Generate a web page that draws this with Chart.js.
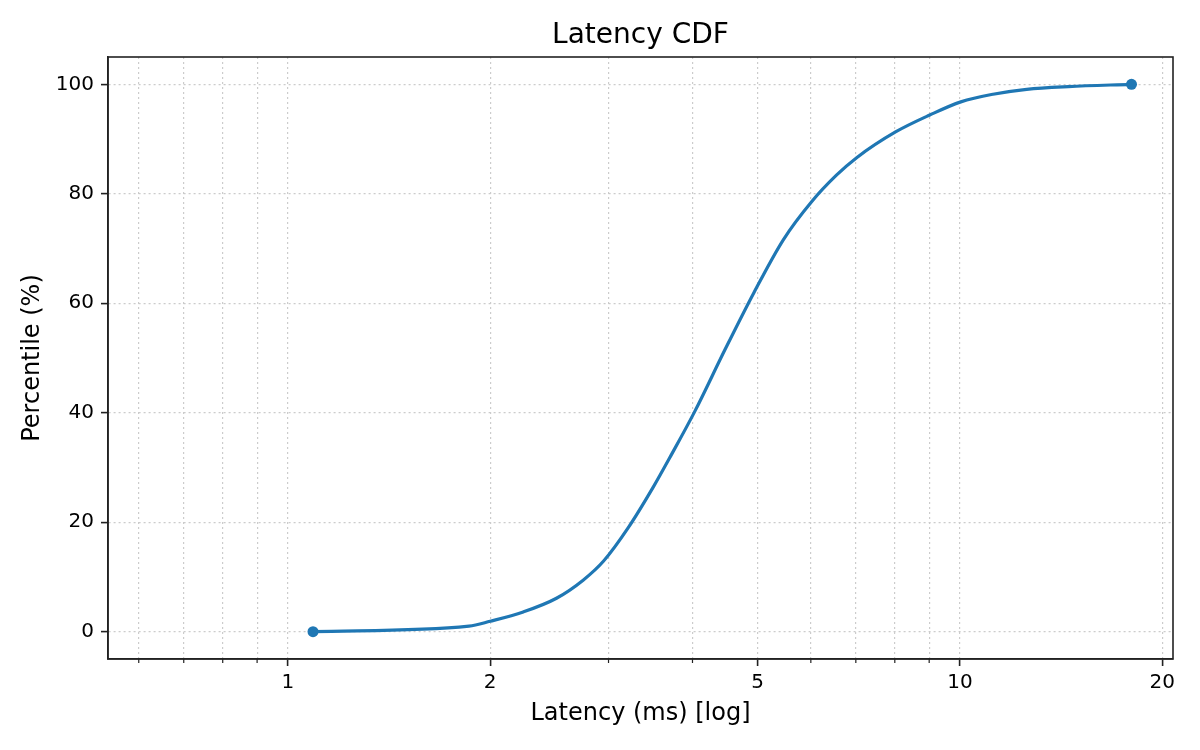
<!DOCTYPE html>
<html>
<head>
<meta charset="utf-8">
<script src="https://cdn.jsdelivr.net/npm/chart.js@4/dist/chart.umd.min.js"></script>
<style>
  html, body { margin: 0; padding: 0; background: #fff; }
  #latencyChart { display: block; }
</style>
</head>
<body>
<canvas id="latencyChart" width="1200" height="750"></canvas>
<script>
// Points
const latencyMs = [1.09, 1.86, 2.0, 2.24, 2.51, 2.75, 2.95, 3.21, 3.5, 3.72, 4.03, 4.47, 4.93, 5.46, 6.02, 6.55, 7.02, 8.02, 9.02, 10.03, 11.2, 12.57, 14.5, 18.0];
const percentile = [0, 1, 1.9, 3.6, 6.1, 9.4, 12.9, 19.0, 26.5, 32.3, 40.2, 51.5, 61.8, 71.6, 78.6, 83.4, 86.6, 91.3, 94.4, 96.8, 98.2, 99.1, 99.6, 100];

// Ticks
const xTicks = [0.6, 0.7, 0.8, 0.9, 1, 2, 3, 4, 5, 6, 7, 8, 9, 10, 20];
const xLabelled = [1, 2, 5, 10, 20];
const yTicks = [0, 20, 40, 60, 80, 100];

const blue = '#1f77b4';
const axisColor = '#222';
const gridColor = '#cccccc';

Chart.defaults.font.family = "'DejaVu Sans', sans-serif";
Chart.defaults.color = '#000';

// top/right spines and the short minor tick marks on x
const framePlugin = {
  id: 'frame',
  afterDraw(chart) {
    const { ctx, chartArea: a, scales: { x } } = chart;
    ctx.save();
    ctx.strokeStyle = axisColor;
    ctx.lineWidth = 1.6;
    ctx.strokeRect(a.left, a.top, a.right - a.left, a.bottom - a.top);
    ctx.lineWidth = 1.2;
    xTicks.filter(v => !xLabelled.includes(v)).forEach(v => {
      const px = x.getPixelForValue(v);
      ctx.beginPath();
      ctx.moveTo(px, a.bottom);
      ctx.lineTo(px, a.bottom + 4);
      ctx.stroke();
    });
    ctx.restore();
  }
};

const lastIdx = latencyMs.length - 1;

new Chart(document.getElementById('latencyChart'), {
  type: 'line',
  data: {
    datasets: [{
      data: latencyMs.map((v, i) => ({ x: v, y: percentile[i] })),
      borderColor: blue,
      backgroundColor: blue,
      borderWidth: 3.2,
      cubicInterpolationMode: 'monotone',
      pointRadius: c => (c.dataIndex === 0 || c.dataIndex === lastIdx) ? 5.5 : 0,
      pointBorderWidth: 0,
      pointHoverRadius: 0,
      fill: false
    }]
  },
  options: {
    responsive: false,
    animation: false,
    layout: { padding: { left: 0, right: 27, top: 0, bottom: 0 } },
    plugins: {
      legend: { display: false },
      tooltip: { enabled: false },
      title: {
        display: true,
        text: 'Latency CDF',
        color: '#000',
        fullSize: false,
        font: { size: 28, weight: 'normal' },
        padding: { top: 19, bottom: 4.4 }
      }
    },
    scales: {
      x: {
        type: 'logarithmic',
        min: 0.54,
        max: 20.75,
        afterBuildTicks: s => { s.ticks = xTicks.map(v => ({ value: v })); },
        afterFit: s => { s.height = 91; },
        ticks: {
          autoSkip: false,
          maxRotation: 0,
          padding: 5,
          font: { size: 20 },
          callback: v => xLabelled.includes(v) ? String(v) : ''
        },
        grid: {
          color: gridColor,
          lineWidth: 1.2,
          tickLength: 7,
          tickWidth: 1.6,
          tickColor: c => (c.tick && xLabelled.includes(c.tick.value)) ? axisColor : 'rgba(0,0,0,0)'
        },
        border: { color: axisColor, width: 1.6, dash: [2, 3] },
        title: {
          display: true,
          text: 'Latency (ms) [log]',
          font: { size: 24 },
          padding: { top: 0, bottom: 21.6 }
        }
      },
      y: {
        min: -5,
        max: 105,
        afterBuildTicks: s => { s.ticks = yTicks.map(v => ({ value: v })); },
        afterFit: s => { s.width = 108; },
        ticks: { padding: 7, font: { size: 20 } },
        grid: { color: gridColor, lineWidth: 1.2, tickLength: 7, tickWidth: 1.6, tickColor: axisColor },
        border: { color: axisColor, width: 1.6, dash: [2, 3] },
        title: {
          display: true,
          text: 'Percentile (%)',
          font: { size: 24 },
          padding: { top: 18, bottom: 0 }
        }
      }
    }
  },
  plugins: [framePlugin]
});
</script>
</body>
</html>
